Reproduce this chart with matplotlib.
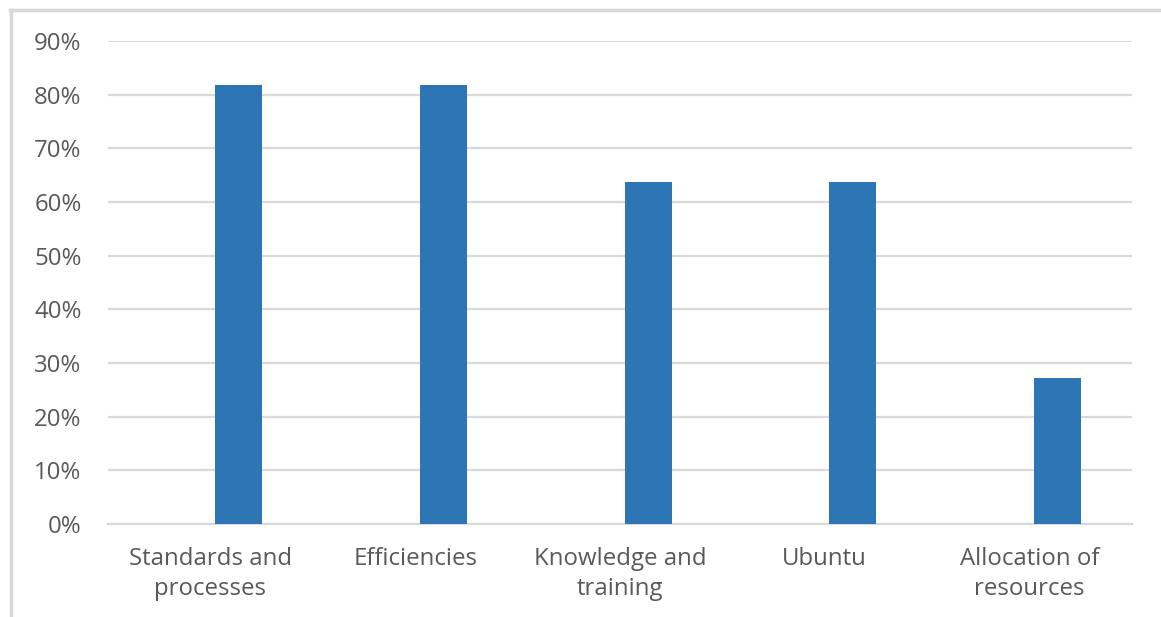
import matplotlib.pyplot as plt
from matplotlib.lines import Line2D
from matplotlib.ticker import PercentFormatter
import numpy as np

categories = ["Standards and\nprocesses", "Efficiencies", "Knowledge and\ntraining",
              "Ubuntu", "Allocation of\nresources"]
shares = [9 / 11, 9 / 11, 7 / 11, 7 / 11, 3 / 11]
y_ticks = [0, 0.1, 0.2, 0.3, 0.4, 0.5, 0.6, 0.7, 0.8, 0.9]

plt.rcParams['font.family'] = ['Open Sans', 'DejaVu Sans']

W, H = 1161, 617
fig = plt.figure(figsize=(W / 100, H / 100), dpi=100)

# plot area in pixel terms
left, right, bottom, top = 108, 1132, 524, 41
ax = fig.add_axes([left / W, (H - bottom) / H, (right - left) / W, (bottom - top) / H])

x = np.arange(len(categories))
ax.bar(x + 0.137, shares, width=0.23, color='#2e75b6', zorder=3)

ax.set_xlim(-0.5, len(categories) - 0.5)
ax.set_ylim(0, 0.9)
ax.set_yticks(y_ticks)
ax.yaxis.set_major_formatter(PercentFormatter(1.0, decimals=0))
ax.set_xticks(x)
ax.set_xticklabels(categories, linespacing=1.32)

ax.grid(axis='y', color='#d9d9d9', linewidth=1.6, zorder=0)
for s in ['top', 'right', 'left']:
    ax.spines[s].set_visible(False)
ax.spines['bottom'].set_color('#d9d9d9')
ax.spines['bottom'].set_linewidth(1.6)

ax.tick_params(axis='both', length=0, labelsize=17.3, labelcolor='#595959')
ax.tick_params(axis='y', pad=19)
ax.tick_params(axis='x', pad=16.5)

# light frame on the left and top edges of the chart
fig.add_artist(Line2D([11 / W, 11 / W], [0, (H - 10) / H], color='#d9d9d9', lw=2.5))
fig.add_artist(Line2D([10 / W, 1], [(H - 10) / H, (H - 10) / H], color='#d9d9d9', lw=2.5))

fig.savefig('out.png', dpi=100)
